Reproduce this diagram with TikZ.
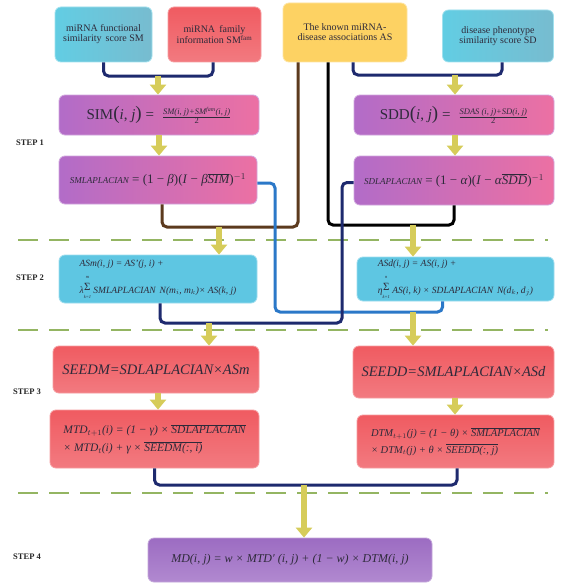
\documentclass[tikz,border=0pt]{standalone}
\usepackage{fontspec}
\setmainfont{Liberation Serif}
\usetikzlibrary{arrows.meta}
\definecolor{cyanbox}{HTML}{62CDE3}
\definecolor{cyanbox2}{HTML}{5EC6E2}
\definecolor{redbox}{HTML}{F05B61}
\definecolor{redbox2}{HTML}{F27A80}
\definecolor{yellowbox}{HTML}{FDD263}
\definecolor{purpbox}{HTML}{B26CC8}
\definecolor{pinkbox}{HTML}{EC70A3}
\definecolor{mdbox}{HTML}{9C6CC2}
\definecolor{mdbox2}{HTML}{B189D0}
\definecolor{arrowc}{HTML}{D6CC5A}
\definecolor{navyc}{HTML}{1E2A6E}
\definecolor{brownc}{HTML}{5C3A1E}
\definecolor{bluec}{HTML}{2B78C8}
\definecolor{dashc}{HTML}{94B562}
\definecolor{txtc}{HTML}{2E2A3A}
\newcommand{\fsz}[1]{\fontsize{#1}{#1}\selectfont}
\newcommand{\ovl}[1]{$\overline{\mbox{#1}}$}
\newcommand{\smallsum}[2]{\raisebox{-5pt}{\shortstack{{\fsz{4.5}\itshape #2}\\[1.5pt]{\fsz{11}\upshape Σ}\\[1.5pt]{\fsz{4.5}\itshape #1}}}}
\begin{document}
\begin{tikzpicture}[x=1pt,y=-1pt,
  box/.style={rounded corners=6pt, inner sep=0pt, align=center, text=txtc, line width=0.8pt},
  cyanstyle/.style={box, left color=cyanbox, right color=cyanbox!85!redbox, draw=cyanbox!60!white},
  cyanstyle2/.style={box, fill=cyanbox2, draw=cyanbox2!60!white},
  redstyle/.style={box, top color=redbox, bottom color=redbox2, draw=redbox!60!white},
  yellowstyle/.style={box, fill=yellowbox, draw=yellowbox!60!white},
  purpstyle/.style={box, left color=purpbox, right color=pinkbox, draw=purpbox!60!white},
  mdstyle/.style={box, top color=mdbox, bottom color=mdbox2, draw=mdbox!60!white},
  yarrow/.style={draw=arrowc, line width=6pt, -{Triangle[width=16pt,length=10pt]}},
  conn/.style={line width=3pt, rounded corners=5pt},
  dashline/.style={draw=dashc, line width=2.2pt, dash pattern=on 20pt off 11pt},
  steplabel/.style={anchor=west, font=\fsz{8.5}\bfseries, text=black!85, inner sep=0pt}
]
\useasboundingbox (0,0) rectangle (560,586);
\fill[white] (0,0) rectangle (560,586);

% dashed separators
\draw[dashline] (18,240) -- (548,240);
\draw[dashline] (18,330) -- (548,330);
\draw[dashline] (18,493) -- (548,493);

% step labels
\node[steplabel] (s1) at (16,143) {STEP 1};
\node[steplabel] (s2) at (16,278) {STEP 2};
\node[steplabel] (s3) at (13,392) {STEP 3};
\node[steplabel] (s4) at (13,557) {STEP 4};

% top boxes
\node[cyanstyle, minimum width=97pt, minimum height=55pt, font=\fsz{10}] (A) at (103.5,34.5)
  {miRNA functional\\similarity\, score SM};
\node[redstyle, minimum width=93pt, minimum height=55pt, font=\fsz{10}] (B) at (214.5,34.5)
  {miRNA\, family\\information SM\textsuperscript{fam}};
\node[yellowstyle, minimum width=124pt, minimum height=59pt, font=\fsz{10}] (C) at (345,32.5)
  {The known miRNA-\\disease associations AS};
\node[cyanstyle, minimum width=111pt, minimum height=52pt, font=\fsz{10}] (D) at (498,36)
  {disease phenotype\\similarity score SD};

% step 1 boxes
\node[purpstyle, minimum width=200pt, minimum height=40pt] (SIM) at (159,115)
  {{\fsz{15}SIM{\fsz{19}(}\textit{i}, \textit{j}{\fsz{19})} = }\,
   $\frac{\mbox{\fsz{8.5}\itshape SM(i, j)+SM\textsuperscript{fam}(i, j)}}{\mbox{\fsz{8.5}2}}$};
\node[purpstyle, minimum width=198pt, minimum height=48pt, font=\fsz{13}] (SML) at (158,180)
  {{\fsz{9}\itshape SMLAPLACIAN} = (1 − \textit{β})(\textit{I} − \textit{β}\ovl{\itshape SIM})$^{-1}$};
\node[purpstyle, minimum width=200pt, minimum height=40pt] (SDD) at (454,115)
  {{\fsz{15}SDD{\fsz{19}(}\textit{i}, \textit{j}{\fsz{19})} = }\,
   $\frac{\mbox{\fsz{8.5}\itshape SDAS (i, j)+SD(i, j)}}{\mbox{\fsz{8.5}2}}$};
\node[purpstyle, minimum width=200pt, minimum height=49pt, font=\fsz{13}] (SDL) at (454,180.5)
  {{\fsz{9}\itshape SDLAPLACIAN} = (1 − \textit{α})(\textit{I} − \textit{α}\ovl{\itshape SDD})$^{-1}$};

% step 2 boxes
\node[cyanstyle2, minimum width=198pt, minimum height=48pt, align=left, font=\fsz{9.5}\itshape] (ASm) at (158,279)
  {ASm(i, j) = AS'(j, i) +\\[7pt]
   λ\smallsum{k=1}{m} SMLAPLACIAN\, N(m$_i$, m$_k$)× AS(k, j)};
\node[cyanstyle2, minimum width=197pt, minimum height=44pt, align=left, font=\fsz{9.5}\itshape] (ASd) at (455.5,279)
  {ASd(i, j) = AS(i, j) +\\[7pt]
   η\smallsum{k=1}{n} AS(i, k) × SDLAPLACIAN\, N(d$_k$, d$_j$)};

% step 3 boxes
\node[redstyle, minimum width=206pt, minimum height=47pt, font=\fsz{14.5}\itshape] (SEEDM) at (156,369.5)
  {SEEDM=SDLAPLACIAN×ASm};
\node[redstyle, minimum width=209pt, minimum height=58pt, align=left, font=\fsz{11.5}\itshape] (MTD) at (154.5,439)
  {MTD$_{t+1}$(i) = (1 − γ) × \ovl{SDLAPLACIAN}\\[4pt]
   × MTD$_t$(i) + γ × \ovl{SEEDM(:, i)}};
\node[redstyle, minimum width=201pt, minimum height=52pt, font=\fsz{14.5}\itshape] (SEEDD) at (453.5,372)
  {SEEDD=SMLAPLACIAN×ASd};
\node[redstyle, minimum width=197pt, minimum height=53pt, align=left, font=\fsz{10.5}\itshape] (DTM) at (455.5,441.5)
  {DTM$_{t+1}$(j) = (1 − θ) × \ovl{SMLAPLACIAN}\\[4pt]
   × DTM$_t$(j) + θ × \ovl{SEEDD(:, j)}};

% step 4 box
\node[mdstyle, minimum width=284pt, minimum height=44pt, font=\fsz{12}\itshape] (MD) at (290,560)
  {MD(i, j) = w × MTD′ (i, j) + (1 − w) × DTM(i, j)};

% junction coordinates
\coordinate (c1) at (158,76);
\coordinate (c2) at (455,75);
\coordinate (c3) at (219,227);
\coordinate (c4) at (413,225);
\coordinate (b1) at (275,312);
\coordinate (c5) at (413,312);
\coordinate (b2) at (342,323);
\coordinate (c6) at (209,323);
\coordinate (c7) at (304,485);

% connectors step 1 inputs
\draw[conn, navyc] (A.south) |- (c1) -| ([xshift=-1.5pt]B.south);
\draw[conn, navyc] ([xshift=8pt]C.south) |- (c2) -| ([xshift=4pt]D.south);
% step 1 -> step 2
\draw[conn, brownc] ([xshift=4pt]SML.south) |- (c3) -| ([xshift=-47pt]C.south);
\draw[conn, black] ([xshift=-17pt]C.south) |- (c4) -| (SDL.south);
% step 2 -> step 3
\draw[conn, bluec] ([yshift=-3pt]SML.east) -| (b1) -- (c5) -| ([xshift=-13pt]ASd.south);
\draw[conn, navyc] ([yshift=-2pt]SDL.west) -| (b2) -- (c6) -| ([xshift=2pt]ASm.south);
% step 3 -> step 4
\draw[conn, navyc] (MTD.south) |- (c7) -| ([xshift=1.5pt]DTM.south);

% yellow arrows
\draw[yarrow] (c1) -- (c1 |- SIM.north);
\draw[yarrow] (c2) -- (c2 |- SDD.north);
\draw[yarrow] (SIM.south) -- (SIM.south |- SML.north);
\draw[yarrow] ([xshift=1pt]SDD.south) -- ([xshift=1pt]SDD.south |- SDL.north);
\draw[yarrow] (c3) -- (c3 |- ASm.north);
\draw[yarrow] (c4) -- (c4 |- ASd.north);
\draw[yarrow] (c6) -- (c6 |- SEEDM.north);
\draw[yarrow] (c5) -- (c5 |- SEEDD.north);
\draw[yarrow] ([xshift=2pt]SEEDM.south) -- ([xshift=2pt]SEEDM.south |- MTD.north);
\draw[yarrow] ([xshift=1.5pt]SEEDD.south) -- ([xshift=1.5pt]SEEDD.south |- DTM.north);
\draw[yarrow] (c7) -- (c7 |- MD.north);
\end{tikzpicture}
\end{document}
